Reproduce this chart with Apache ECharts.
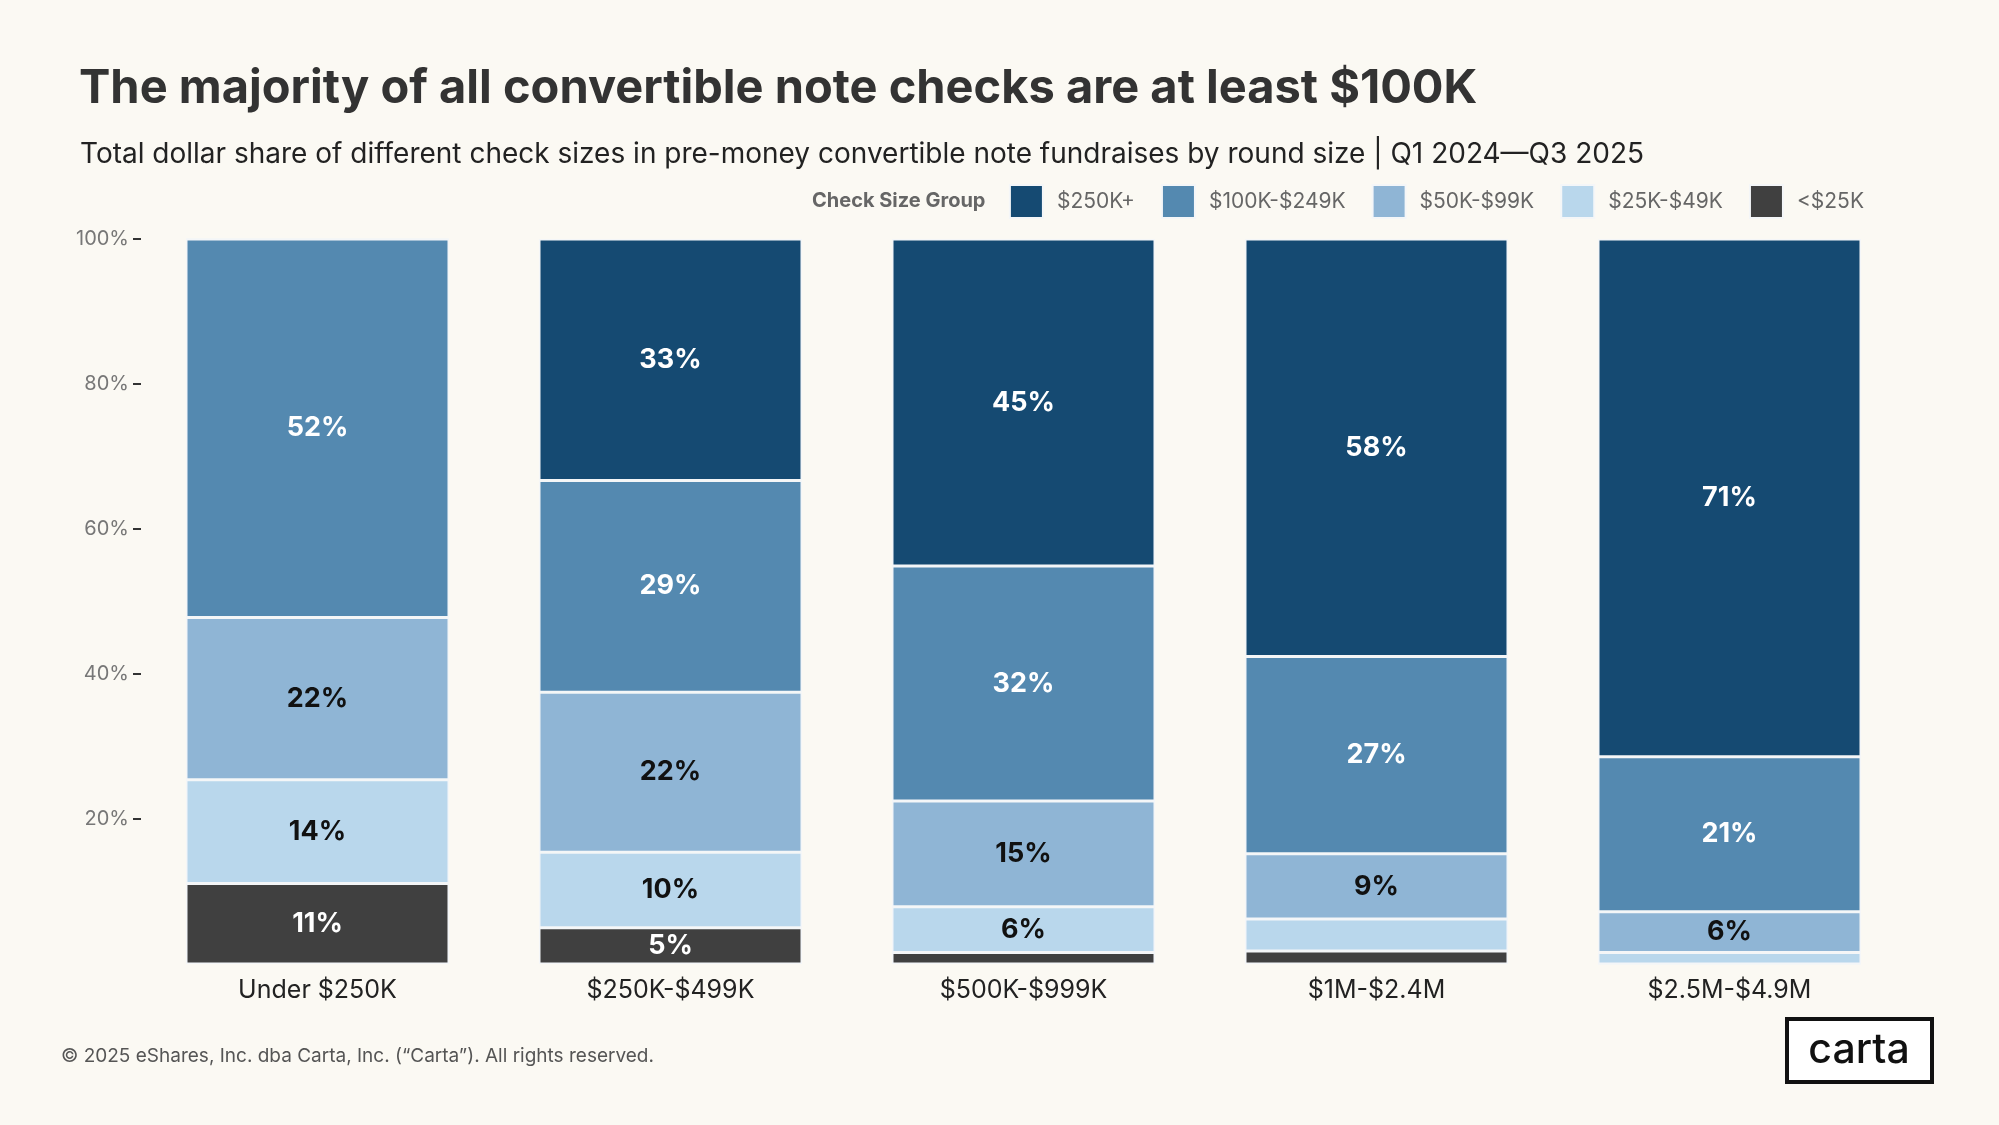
<!DOCTYPE html>
<html>
<head>
<meta charset="utf-8">
<title>Convertible note check sizes</title>
<script src="https://cdn.jsdelivr.net/npm/echarts@6/dist/echarts.min.js"></script>
<style>
  html, body { margin: 0; padding: 0; background: #fbf9f3; }
  #chart { width: 1999px; height: 1125px; }
</style>
</head>
<body>
<div id="chart"></div>
<script>
// round size buckets
const categories = ['Under $250K', '$250K-$499K', '$500K-$999K', '$1M-$2.4M', '$2.5M-$4.9M'];

// dollar share (%) per check size group, bottom of stack first
const under25k  = [11.1, 5.0, 1.6, 1.8, 0];
const k25to49   = [14.3, 10.4, 6.3, 4.4, 1.6];
const k50to99   = [22.4, 22.1, 14.6, 9.0, 5.6];
const k100to249 = [52.2, 29.2, 32.4, 27.2, 21.4];
const k250plus  = [0, 33.3, 45.1, 57.6, 71.4];

const yTicks = [20, 40, 60, 80, 100];

const font = 'Inter, "Noto Sans", sans-serif';

// 小于5%的不显示标签
function labelOf(p) {
  return p.value >= 5 ? Math.round(p.value) + '%' : '';
}

function makeSeries(name, data, color, textColor) {
  return {
    name: name,
    type: 'bar',
    stack: 'share',
    data: data,
    barCategoryGap: '25.5%',
    itemStyle: { color: color, borderColor: '#f4f6f8', borderWidth: 1.5 },
    label: {
      show: true,
      position: 'inside',
      formatter: labelOf,
      color: textColor,
      fontFamily: font,
      fontWeight: 'bold',
      fontSize: 27
    },
    emphasis: { disabled: true }
  };
}

const chart = echarts.init(document.getElementById('chart'));

const option = {
  backgroundColor: '#fbf9f3',
  animation: false,
  title: [{
    text: 'The majority of all convertible note checks are at least $100K',
    left: 74,
    top: 60,
    textStyle: { fontFamily: font, fontWeight: 'bold', fontSize: 47, color: '#333333' }
  }, {
    text: 'Total dollar share of different check sizes in pre-money convertible note fundraises by round size | Q1 2024\u2014Q3 2025',
    left: 75,
    top: 136,
    textStyle: { fontFamily: font, fontWeight: 'normal', fontSize: 28, color: '#222222' }
  }],
  legend: {
    right: 135,
    top: 184,
    padding: 0,
    itemWidth: 33,
    itemHeight: 33,
    itemGap: 26,
    icon: 'rect',
    data: ['$250K+', '$100K-$249K', '$50K-$99K', '$25K-$49K', '<$25K'],
    textStyle: { fontFamily: font, fontSize: 21, color: '#666666', padding: [0, 0, 0, 9] }
  },
  grid: { left: 141, right: 93, top: 239, bottom: 161 },
  xAxis: {
    type: 'category',
    data: categories,
    axisLine: { show: false },
    axisTick: { show: false },
    axisLabel: { fontFamily: font, fontSize: 25, color: '#222222', margin: 14 }
  },
  yAxis: {
    type: 'value',
    min: 0,
    max: 100,
    interval: 20,
    splitLine: { show: false },
    axisLine: { show: false },
    axisTick: { show: true, length: 8, customValues: yTicks, lineStyle: { color: '#333333', width: 2 } },
    axisLabel: {
      fontFamily: font,
      fontSize: 20,
      color: '#777777',
      margin: 12,
      customValues: yTicks,
      formatter: function (v) { return v + '%'; }
    }
  },
  series: [
    makeSeries('<$25K', under25k, '#404040', '#ffffff'),
    makeSeries('$25K-$49K', k25to49, '#b9d7ec', '#111111'),
    makeSeries('$50K-$99K', k50to99, '#8fb5d5', '#111111'),
    makeSeries('$100K-$249K', k100to249, '#5489b0', '#ffffff'),
    makeSeries('$250K+', k250plus, '#154a72', '#ffffff')
  ],
  graphic: [{
    type: 'text',
    left: 812,
    top: 191,
    style: { text: 'Check Size Group', font: 'bold 20px ' + font, fill: '#666666' }
  }, {
    type: 'text',
    left: 61,
    top: 1047,
    style: {
      text: '\u00a9 2025 eShares, Inc. dba Carta, Inc. (\u201cCarta\u201d). All rights reserved.',
      font: '19px ' + font,
      fill: '#555555'
    }
  }, {
    type: 'group',
    left: 1785,
    top: 1017,
    children: [{
      type: 'rect',
      shape: { x: 0, y: 0, width: 145, height: 63 },
      style: { fill: '#ffffff', stroke: '#111111', lineWidth: 4 }
    }, {
      type: 'text',
      x: 72,
      y: 32,
      style: {
        text: 'carta',
        font: '500 41px ' + font,
        fill: '#111111',
        align: 'center',
        verticalAlign: 'middle'
      }
    }]
  }]
};

chart.setOption(option);
</script>
</body>
</html>
